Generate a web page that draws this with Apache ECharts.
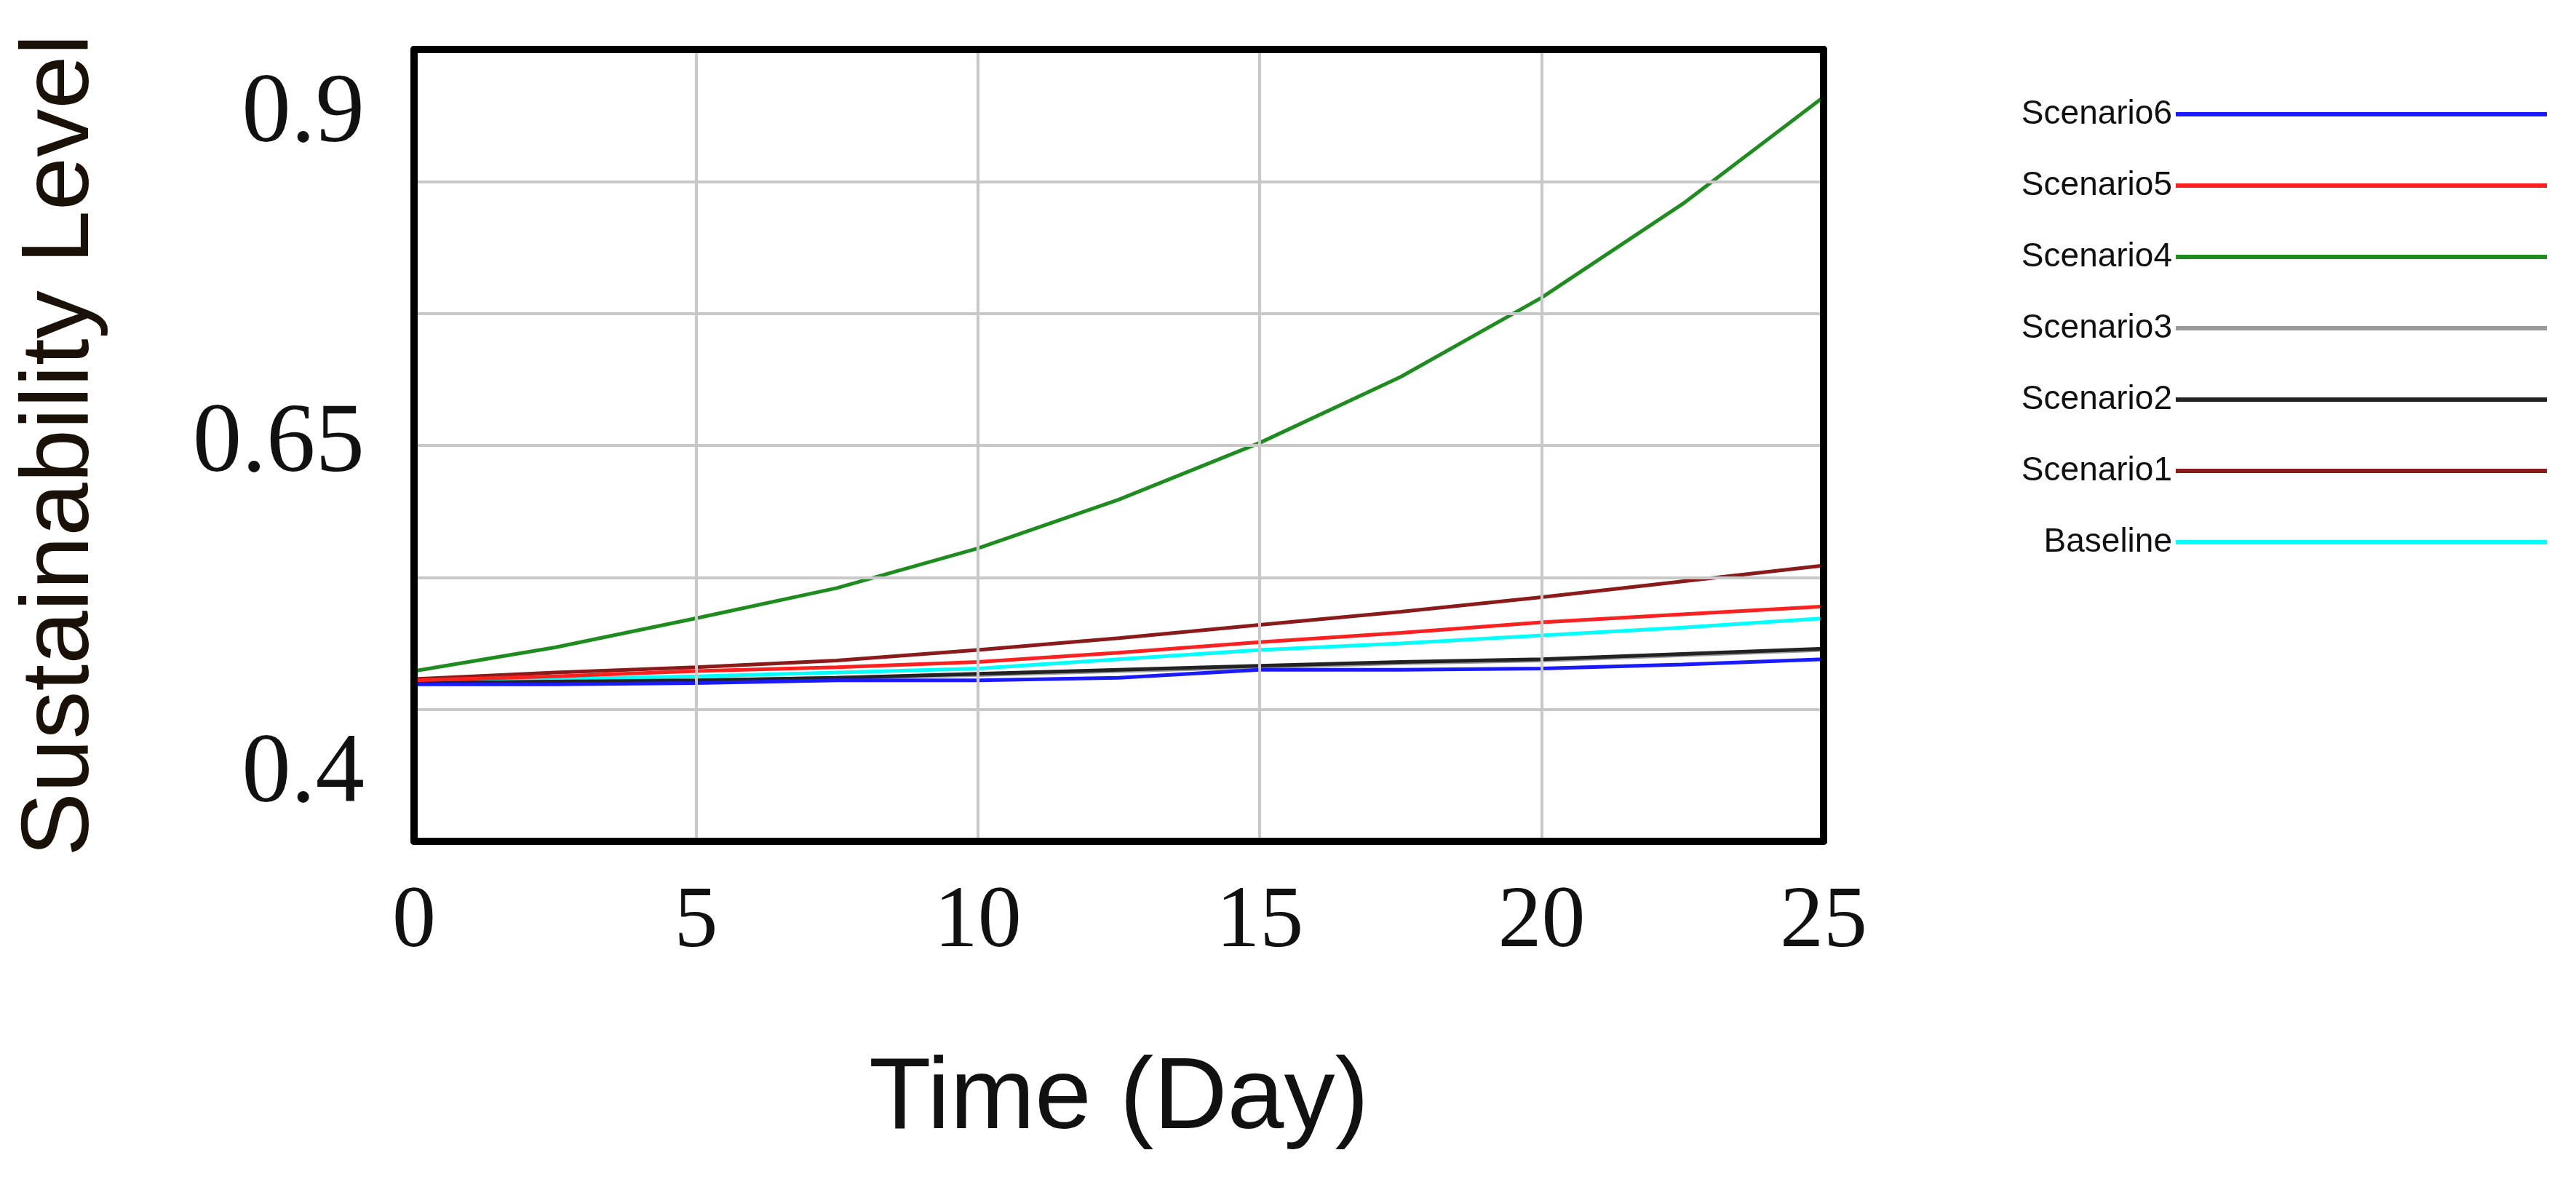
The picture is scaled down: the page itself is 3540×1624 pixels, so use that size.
<!DOCTYPE html>
<html>
<head>
<meta charset="utf-8">
<script src="https://cdn.jsdelivr.net/npm/echarts@6/dist/echarts.min.js"></script>
<style>html,body{margin:0;padding:0;background:#fff}#chart{width:3540px;height:1624px}</style>
</head>
<body>
<div id="chart"></div>
<script>
// time in days
const days = [0, 2.5, 5, 7.5, 10, 12.5, 15, 17.5, 20, 22.5, 25];

const baseline  = [0.471, 0.473, 0.475, 0.478, 0.481, 0.488, 0.495, 0.500, 0.506, 0.512, 0.519];
const scenario1 = [0.473, 0.478, 0.482, 0.487, 0.495, 0.504, 0.514, 0.524, 0.535, 0.547, 0.559];
const scenario2 = [0.470, 0.471, 0.472, 0.474, 0.477, 0.480, 0.483, 0.486, 0.488, 0.492, 0.496];
const scenario3 = [0.470, 0.471, 0.472, 0.474, 0.476, 0.479, 0.482, 0.485, 0.487, 0.491, 0.495];
const scenario4 = [0.479, 0.497, 0.519, 0.542, 0.572, 0.609, 0.652, 0.702, 0.762, 0.833, 0.914];
const scenario5 = [0.472, 0.475, 0.479, 0.482, 0.486, 0.493, 0.501, 0.508, 0.516, 0.522, 0.528];
const scenario6 = [0.469, 0.469, 0.470, 0.472, 0.472, 0.474, 0.480, 0.480, 0.481, 0.484, 0.488];

const yLabels = ['0.4', '0.65', '0.9'];
const legendOrder = ['Scenario6', 'Scenario5', 'Scenario4', 'Scenario3', 'Scenario2', 'Scenario1', 'Baseline'];

const chart = echarts.init(document.getElementById('chart'));

const mk = (name, vals, color) => ({
  name,
  type: 'line',
  showSymbol: false,
  symbol: 'none',
  data: days.map((d, i) => [d, vals[i]]),
  lineStyle: { color, width: 5 },
  itemStyle: { color },
});

// black frame made of axis lines on all four sides
const frame = { show: true, onZero: false, lineStyle: { color: '#000', width: 10 } };

chart.setOption({
  animation: false,
  backgroundColor: '#fff',
  grid: { left: 569, right: 1034, top: 68, bottom: 468 },
  legend: {
    data: legendOrder,
    orient: 'vertical',
    left: 2630, top: 118,
    align: 'right',
    icon: 'rect',
    itemWidth: 510, itemHeight: 6,
    itemGap: 30,
    textStyle: {
      fontFamily: 'Liberation Sans', fontSize: 46, color: '#111',
      width: 350, align: 'left', lineHeight: 52, padding: [0, 0, 16, 0],
    },
  },
  xAxis: [{
    type: 'value', min: 0, max: 25, interval: 5, z: 5,
    name: 'Time (Day)', nameLocation: 'middle', nameGap: 285,
    nameTextStyle: { fontFamily: 'Liberation Sans', fontSize: 140, color: '#111' },
    axisLine: frame, axisTick: { show: false },
    axisLabel: { fontFamily: 'Liberation Serif', fontSize: 120, color: '#111', margin: 52 },
    splitLine: { lineStyle: { color: '#c8c8c8', width: 4 } },
  }, {
    type: 'value', min: 0, max: 25, position: 'top', z: 5,
    axisLine: frame, axisTick: { show: false }, axisLabel: { show: false }, splitLine: { show: false },
  }],
  yAxis: [{
    type: 'value', min: 0.35, max: 0.95, interval: 0.05, z: 5,
    name: 'Sustainability Level', nameLocation: 'middle', nameGap: 418,
    nameTextStyle: { fontFamily: 'Liberation Sans', fontSize: 132, color: '#1a1208' },
    axisLine: frame, axisTick: { show: false },
    axisLabel: {
      fontFamily: 'Liberation Serif', fontSize: 135, color: '#111', margin: 68,
      formatter: (v) => {
        const s = String(Math.round(v * 100) / 100);
        return yLabels.includes(s) ? s : '';
      },
    },
    splitLine: { lineStyle: { color: ['rgba(0,0,0,0)', 'rgba(0,0,0,0)', '#c8c8c8', 'rgba(0,0,0,0)', '#c8c8c8', 'rgba(0,0,0,0)', '#c8c8c8', 'rgba(0,0,0,0)', '#c8c8c8', 'rgba(0,0,0,0)', '#c8c8c8', 'rgba(0,0,0,0)', 'rgba(0,0,0,0)'], width: 4 } },
  }, {
    type: 'value', min: 0.35, max: 0.95, position: 'right', z: 5,
    axisLine: frame, axisTick: { show: false }, axisLabel: { show: false }, splitLine: { show: false },
  }],
  series: [
    mk('Baseline', baseline, '#00ffff'),
    mk('Scenario1', scenario1, '#8b1a1a'),
    mk('Scenario3', scenario3, '#999999'),
    mk('Scenario2', scenario2, '#222222'),
    mk('Scenario4', scenario4, '#1e8c1e'),
    mk('Scenario5', scenario5, '#ff2020'),
    mk('Scenario6', scenario6, '#1a1aff'),
  ],
});
</script>
</body>
</html>
